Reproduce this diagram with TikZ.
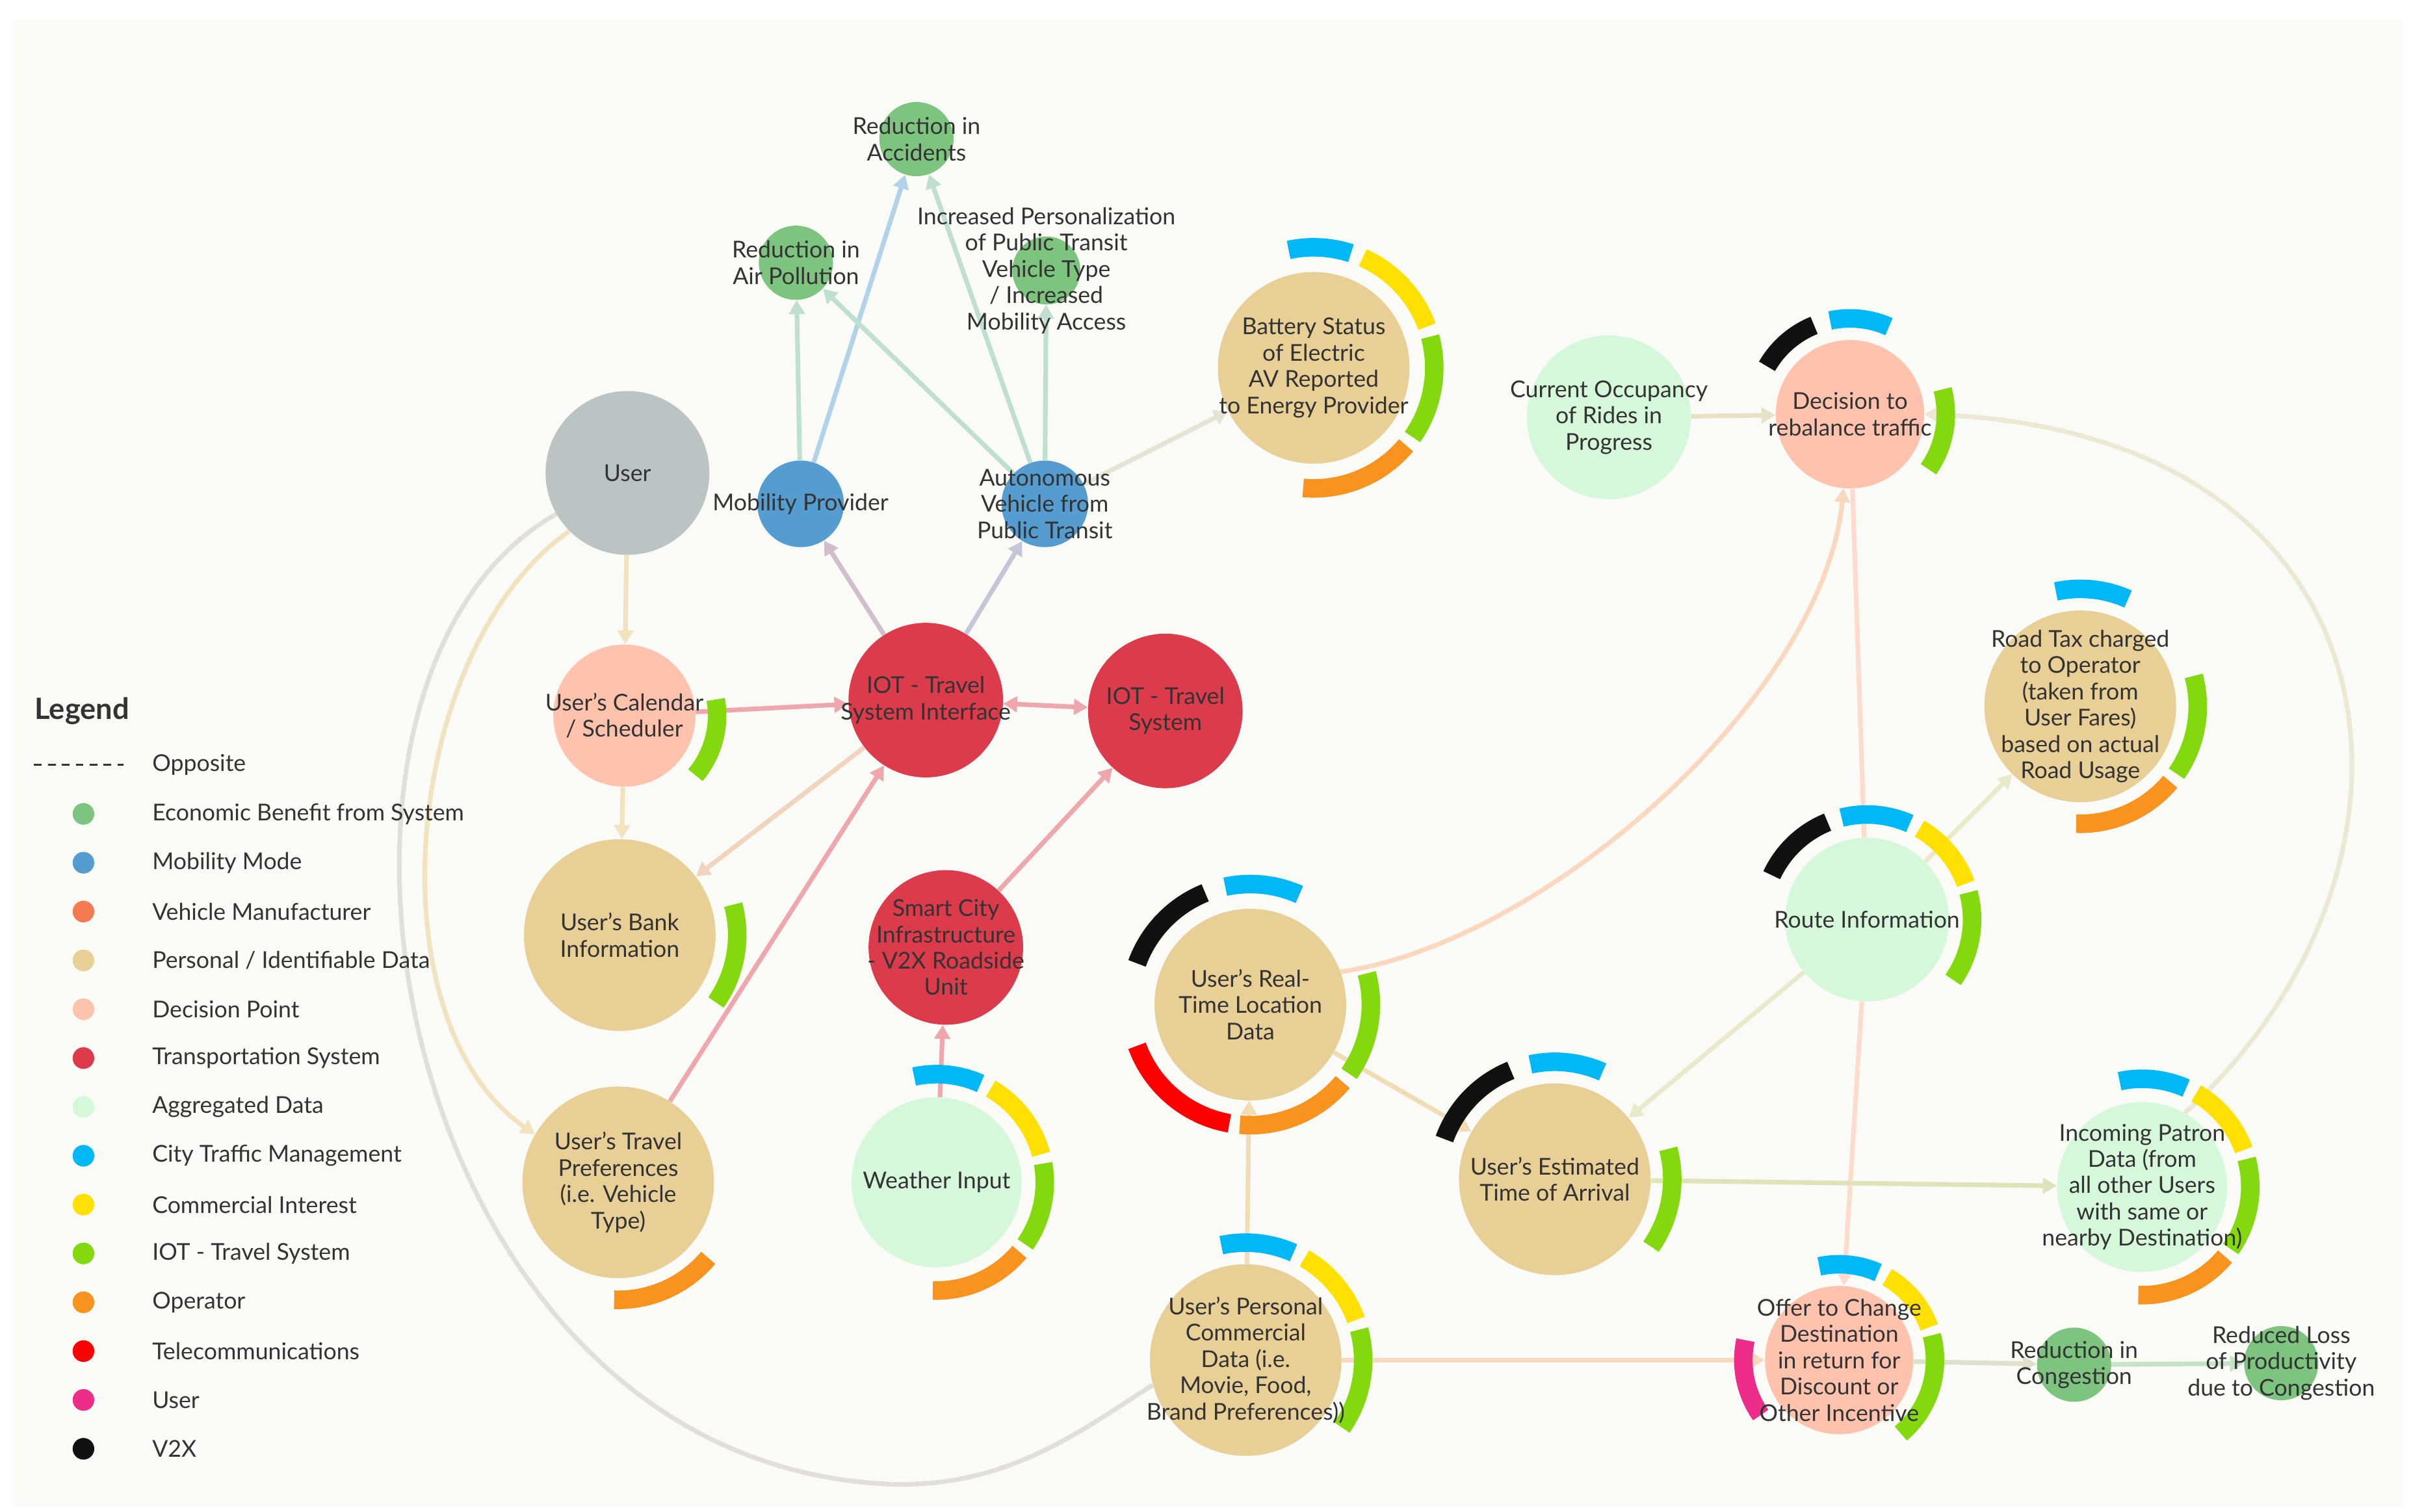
\documentclass[tikz,border=0pt]{standalone}
\usepackage{fontspec}
\setmainfont{Lato}
\usetikzlibrary{arrows.meta}
\definecolor{cEco}{HTML}{7DC47E}
\definecolor{cMob}{HTML}{559CD0}
\definecolor{cVeh}{HTML}{F47B4F}
\definecolor{cPer}{HTML}{E8CF96}
\definecolor{cDec}{HTML}{FFC3AD}
\definecolor{cTra}{HTML}{DB3B4A}
\definecolor{cAgg}{HTML}{D5F7DA}
\definecolor{cCit}{HTML}{00B8F5}
\definecolor{cCom}{HTML}{FFE000}
\definecolor{cIot}{HTML}{84D80E}
\definecolor{cOpe}{HTML}{F7931E}
\definecolor{cTel}{HTML}{FF0000}
\definecolor{cUse}{HTML}{EE2D8A}
\definecolor{cV2X}{HTML}{111111}
\definecolor{cUsr}{HTML}{BCC3C3}
\definecolor{bgc}{HTML}{FAFAF7}
\definecolor{txt}{HTML}{333333}
\pgfdeclarelayer{bg}\pgfdeclarelayer{back}\pgfsetlayers{back,bg,main}
\tikzset{
 dot/.style={circle,inner sep=0pt,minimum size=#1},
 lbl/.style={text=txt,align=center,font=\fontsize{15}{17}\selectfont},
 ed/.style={line width=3pt,draw=#1,-{Triangle[length=9pt,width=10pt]}},
 ln/.style={line width=3pt,draw=#1},
 leg/.style={text=txt,anchor=west,font=\fontsize{15}{17}\selectfont},
}
\newcommand\seg[5]{\draw[line width=12pt,draw=#5] ([shift={(#2:#3)}]#1.center) arc[start angle=#2,end angle=#4,radius=#3];}
\begin{document}
\begin{tikzpicture}[x=1pt,y=1pt]
\useasboundingbox (0,0) rectangle (1560,-978);
\begin{pgfonlayer}{back}
\fill[white] (0,0) rectangle (1560,-978);
\fill[bgc] (8,-12) rectangle (1555,-975);
\end{pgfonlayer}
% nodes
\node[dot=48,fill=cEco] (acc) at (593,-90) {};
\node[dot=48,fill=cEco] (air) at (515,-170) {};
\node[dot=44,fill=cEco] (pers) at (677,-175) {};
\node[dot=124,fill=cPer] (bat) at (850,-238) {};
\node[dot=106,fill=cAgg] (occ) at (1041,-270) {};
\node[dot=96,fill=cDec] (dec) at (1197,-268) {};
\node[dot=106,fill=cUsr] (user) at (406,-306) {};
\node[dot=56,fill=cMob] (mob) at (518,-326) {};
\node[dot=56,fill=cMob] (av) at (676,-326) {};
\node[dot=92,fill=cDec] (cal) at (404,-463) {};
\node[dot=100,fill=cTra] (iti) at (599,-453) {};
\node[dot=100,fill=cTra] (its) at (754,-460) {};
\node[dot=124,fill=cPer] (bank) at (401,-605) {};
\node[dot=100,fill=cTra] (sc) at (612,-613) {};
\node[dot=124,fill=cPer] (loc) at (809,-650) {};
\node[dot=110,fill=cAgg] (wea) at (606,-765) {};
\node[dot=124,fill=cPer] (tp) at (400,-765) {};
\node[dot=106,fill=cAgg] (route) at (1208,-595) {};
\node[dot=124,fill=cPer] (tax) at (1346,-457) {};
\node[dot=124,fill=cPer] (eta) at (1006,-763) {};
\node[dot=110,fill=cAgg] (pat) at (1386,-768) {};
\node[dot=124,fill=cPer] (pc) at (806,-880) {};
\node[dot=96,fill=cDec] (off) at (1190,-880) {};
\node[dot=48,fill=cEco] (cong) at (1342,-883) {};
\node[dot=48,fill=cEco] (loss) at (1476,-882) {};
% edges
\begin{pgfonlayer}{bg}
\draw[ed=cMob!45] (mob) -- (acc);
\draw[ed=cMob!30!cEco!45] (mob) -- (air);
\draw[ed=cMob!30!cEco!45] (av) -- (acc);
\draw[ed=cMob!30!cEco!45] (av) -- (air);
\draw[ed=cMob!30!cEco!45] (av) -- (pers);
\draw[ed=cMob!25!cPer!45] (av) -- (bat);
\draw[ed=cTra!50!cMob!45] (iti) -- (mob);
\draw[ed=cTra!30!cMob!45] (iti) -- (av);
\draw[ed=cPer!60] (user) -- (cal);
\draw[ed=cTra!45] (cal) -- (iti);
\draw[line width=3pt,draw=cTra!45,{Triangle[length=9pt,width=10pt]}-{Triangle[length=9pt,width=10pt]}] (iti) -- (its);
\draw[ed=cPer!60] (cal) -- (bank);
\draw[ed=cTra!20!cPer!55] (iti) -- (bank);
\draw[ed=cTra!45] (tp) -- (iti);
\draw[ed=cTra!45] (sc) -- (its);
\draw[ed=cTra!45] (wea) -- (sc);
\draw[ed=cPer!60] (user.225) .. controls (260,-420) and (240,-660) .. (tp.150);
\coordinate (ulow) at (570,-960);
\draw[ln=cPer!25!gray!30] (user.210) .. controls (170,-440) and (250,-940) .. (ulow) .. controls (650,-965) and (700,-925) .. (pc.195);
\draw[ed=cPer!40!cDec!70] (loc.20) .. controls (1000,-610) and (1180,-450) .. (dec.265);
\draw[ed=cPer!70] (loc) -- (eta);
\draw[ed=cPer!70] (pc) -- (loc);
\draw[ed=cAgg!60!cDec] (occ) -- (dec);
\draw[ln=cDec!60] (dec) -- (route);
\draw[ed=cDec!60] (route) -- (off);
\draw[ed=cAgg!60!cDec!80] (pat.60) .. controls (1590,-560) and (1560,-280) .. (dec.0);
\draw[ed=cAgg!40!cPer!70] (route) -- (tax);
\draw[ed=cAgg!40!cPer!70] (route) -- (eta);
\draw[ed=cPer!50!cAgg] (eta) -- (pat);
\draw[ed=cPer!40!cDec!70] (pc) -- (off);
\draw[ed=cDec!50!cEco!50] (off) -- (cong);
\draw[ed=cEco!45] (cong) -- (loss);
\end{pgfonlayer}
% rings
\seg{bat}{102}{78}{72}{cCit}\seg{bat}{66}{78}{20}{cCom}\seg{bat}{15}{78}{-35}{cIot}\seg{bat}{-40}{78}{-95}{cOpe}
\seg{dec}{150}{62}{112}{cV2X}\seg{dec}{102}{62}{66}{cCit}\seg{dec}{15}{62}{-35}{cIot}
\seg{cal}{10}{60}{-40}{cIot}
\seg{bank}{15}{76}{-35}{cIot}
\seg{loc}{160}{78}{112}{cV2X}\seg{loc}{102}{78}{66}{cCit}\seg{loc}{15}{78}{-35}{cIot}\seg{loc}{-40}{78}{-95}{cOpe}\seg{loc}{-100}{78}{-160}{cTel}
\seg{wea}{102}{70}{66}{cCit}\seg{wea}{60}{70}{15}{cCom}\seg{wea}{10}{70}{-35}{cIot}\seg{wea}{-40}{70}{-92}{cOpe}
\seg{tp}{-40}{76}{-92}{cOpe}
\seg{route}{155}{68}{112}{cV2X}\seg{route}{104}{68}{66}{cCit}\seg{route}{60}{68}{20}{cCom}\seg{route}{15}{68}{-35}{cIot}
\seg{tax}{102}{76}{66}{cCit}\seg{tax}{15}{76}{-35}{cIot}\seg{tax}{-40}{76}{-92}{cOpe}
\seg{eta}{160}{76}{112}{cV2X}\seg{eta}{102}{76}{66}{cCit}\seg{eta}{15}{76}{-35}{cIot}
\seg{pat}{102}{70}{66}{cCit}\seg{pat}{60}{70}{20}{cCom}\seg{pat}{15}{70}{-35}{cIot}\seg{pat}{-40}{70}{-92}{cOpe}
\seg{pc}{102}{76}{66}{cCit}\seg{pc}{60}{76}{20}{cCom}\seg{pc}{15}{76}{-35}{cIot}
\seg{off}{102}{62}{66}{cCit}\seg{off}{60}{62}{20}{cCom}\seg{off}{15}{62}{-50}{cIot}\seg{off}{168}{62}{215}{cUse}
% labels
\node[lbl] at (acc) {Reduction in\\Accidents};
\node[lbl] at (air) {Reduction in\\Air Pollution};
\node[lbl] at (pers) {Increased Personalization\\of Public Transit\\Vehicle Type\\/ Increased\\Mobility Access};
\node[lbl] at (bat) {Battery Status\\of Electric\\AV Reported\\to Energy Provider};
\node[lbl] at (occ) {Current Occupancy\\of Rides in\\Progress};
\node[lbl] at (dec) {Decision to\\rebalance traffic};
\node[lbl] at (user) {User};
\node[lbl] at (mob) {Mobility Provider};
\node[lbl] at (av) {Autonomous\\Vehicle from\\Public Transit};
\node[lbl] at (cal) {User's Calendar\\/ Scheduler};
\node[lbl] at (iti) {IOT - Travel\\System Interface};
\node[lbl] at (its) {IOT - Travel\\System};
\node[lbl] at (bank) {User's Bank\\Information};
\node[lbl] at (sc) {Smart City\\Infrastructure\\- V2X Roadside\\Unit};
\node[lbl] at (loc) {User's Real-\\Time Location\\Data};
\node[lbl] at (wea) {Weather Input};
\node[lbl] at (tp) {User's Travel\\Preferences\\(i.e. Vehicle\\Type)};
\node[lbl] at (route) {Route Information};
\node[lbl] at (tax) {Road Tax charged\\to Operator\\(taken from\\User Fares)\\based on actual\\Road Usage};
\node[lbl] at (eta) {User's Estimated\\Time of Arrival};
\node[lbl] at (pat) {Incoming Patron\\Data (from\\all other Users\\with same or\\nearby Destination)};
\node[lbl] at (pc) {User's Personal\\Commercial\\Data (i.e.\\Movie, Food,\\Brand Preferences))};
\node[lbl] at (off) {Offer to Change\\Destination\\in return for\\Discount or\\Other Incentive};
\node[lbl] at (cong) {Reduction in\\Congestion};
\node[lbl] at (loss) {Reduced Loss\\of Productivity\\due to Congestion};
% legend
\node[text=txt,anchor=west,font=\fontsize{19}{21}\selectfont\bfseries] (lt) at (19,-460) {Legend};
\draw[txt,line width=1.2pt,dash pattern=on 5pt off 4pt] (22,-495) -- (80,-495);
\node[leg] (l0) at (95,-495) {Opposite};
\foreach \c/\t [count=\i] in {cEco/{Economic Benefit from System},cMob/{Mobility Mode},cVeh/{Vehicle Manufacturer},cPer/{Personal / Identifiable Data},cDec/{Decision Point},cTra/{Transportation System},cAgg/{Aggregated Data},cCit/{City Traffic Management},cCom/{Commercial Interest},cIot/{IOT - Travel System},cOpe/{Operator},cTel/{Telecommunications},cUse/{User},cV2X/{V2X}}{
 \node[dot=14,fill=\c] (d\i) at (54,-495-31.6*\i) {};
 \node[leg] (t\i) at (95,-495-31.6*\i) {\t};
}
\end{tikzpicture}
\end{document}
